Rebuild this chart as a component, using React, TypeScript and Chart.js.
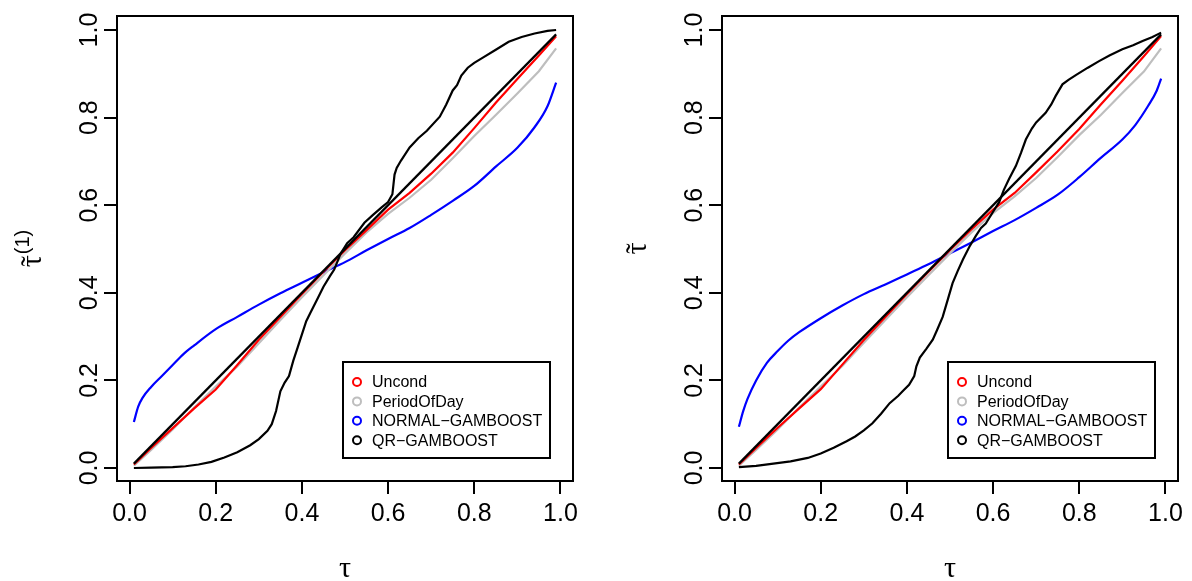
import React, { useEffect, useRef } from 'react';
import { Chart, registerables } from 'chart.js';

Chart.register(...registerables);

// ---------- data ----------
const TICKS = [0, 0.2, 0.4, 0.6, 0.8, 1.0];
const TICK_LABELS = ['0.0', '0.2', '0.4', '0.6', '0.8', '1.0'];

const SERIES_NAMES = ['Uncond', 'PeriodOfDay', 'NORMAL\u2212GAMBOOST', 'QR\u2212GAMBOOST'];
const SERIES_COLORS = ['#FF0000', '#BEBEBE', '#0000FF', '#000000'];

const TAU_GRID = [0.01, 0.05, 0.1, 0.15, 0.2, 0.25, 0.3, 0.35, 0.4, 0.45, 0.5, 0.55, 0.6, 0.65, 0.7, 0.75, 0.8, 0.85, 0.9, 0.95, 0.99];

const DIAG_X = [0.01, 0.99];
const DIAG_Y = [0.01, 0.99];

// left panel
const LEFT_UNCOND = [0.008, 0.046, 0.091, 0.136, 0.179, 0.235, 0.293, 0.345, 0.397, 0.448, 0.497, 0.543, 0.59, 0.628, 0.672, 0.72, 0.776, 0.834, 0.888, 0.942, 0.986];
const LEFT_PERIOD = [0.005, 0.041, 0.088, 0.138, 0.186, 0.232, 0.285, 0.338, 0.39, 0.44, 0.49, 0.538, 0.58, 0.617, 0.658, 0.707, 0.758, 0.806, 0.855, 0.906, 0.958];

const LEFT_NORMAL_X = [0.01, 0.02, 0.03, 0.05, 0.075, 0.1, 0.125, 0.15, 0.2, 0.25, 0.3, 0.35, 0.4, 0.45, 0.5, 0.55, 0.6, 0.65, 0.7, 0.75, 0.8, 0.85, 0.9, 0.94, 0.97, 0.99];
const LEFT_NORMAL_Y = [0.105, 0.14, 0.16, 0.185, 0.21, 0.235, 0.26, 0.28, 0.317, 0.345, 0.373, 0.399, 0.423, 0.447, 0.47, 0.497, 0.523, 0.548, 0.578, 0.61, 0.644, 0.688, 0.731, 0.778, 0.826, 0.88];

const LEFT_QR_X = [0.01, 0.05, 0.1, 0.13, 0.16, 0.19, 0.22, 0.25, 0.28, 0.3, 0.32, 0.33, 0.34, 0.35, 0.36, 0.37, 0.38, 0.39, 0.41, 0.42, 0.435, 0.45, 0.465, 0.475, 0.49, 0.505, 0.52, 0.545, 0.565, 0.585, 0.6, 0.61, 0.615, 0.62, 0.63, 0.65, 0.67, 0.69, 0.72, 0.735, 0.75, 0.76, 0.77, 0.785, 0.8, 0.82, 0.85, 0.88, 0.91, 0.94, 0.97, 0.99];
const LEFT_QR_Y = [0.0, 0.001, 0.002, 0.004, 0.008, 0.014, 0.024, 0.036, 0.052, 0.066, 0.085, 0.1, 0.13, 0.175, 0.195, 0.21, 0.245, 0.275, 0.335, 0.355, 0.384, 0.414, 0.438, 0.453, 0.49, 0.513, 0.527, 0.56, 0.578, 0.595, 0.607, 0.625, 0.67, 0.685, 0.702, 0.732, 0.753, 0.77, 0.802, 0.83, 0.862, 0.874, 0.896, 0.914, 0.925, 0.937, 0.955, 0.973, 0.984, 0.992, 0.998, 1.0];

// right panel
const RIGHT_UNCOND = [0.008, 0.046, 0.092, 0.136, 0.18, 0.236, 0.292, 0.345, 0.397, 0.448, 0.498, 0.545, 0.59, 0.628, 0.675, 0.723, 0.774, 0.83, 0.884, 0.94, 0.986];
const RIGHT_PERIOD = [0.005, 0.041, 0.088, 0.138, 0.186, 0.233, 0.286, 0.338, 0.39, 0.44, 0.49, 0.538, 0.582, 0.62, 0.662, 0.71, 0.76, 0.806, 0.856, 0.905, 0.958];

const RIGHT_NORMAL_X = [0.01, 0.02, 0.03, 0.05, 0.075, 0.1, 0.125, 0.15, 0.2, 0.25, 0.3, 0.35, 0.4, 0.45, 0.5, 0.55, 0.6, 0.65, 0.7, 0.75, 0.8, 0.85, 0.9, 0.93, 0.96, 0.98, 0.99];
const RIGHT_NORMAL_Y = [0.094, 0.13, 0.158, 0.2, 0.24, 0.267, 0.291, 0.31, 0.342, 0.371, 0.397, 0.419, 0.442, 0.465, 0.49, 0.515, 0.541, 0.566, 0.594, 0.624, 0.664, 0.708, 0.75, 0.783, 0.827, 0.862, 0.889];

const RIGHT_QR_X = [0.01, 0.05, 0.09, 0.13, 0.17, 0.2, 0.23, 0.26, 0.28, 0.3, 0.32, 0.34, 0.36, 0.38, 0.39, 0.405, 0.417, 0.422, 0.43, 0.445, 0.46, 0.47, 0.483, 0.495, 0.506, 0.518, 0.53, 0.545, 0.56, 0.572, 0.583, 0.6, 0.614, 0.625, 0.637, 0.653, 0.665, 0.676, 0.69, 0.7, 0.722, 0.735, 0.745, 0.761, 0.775, 0.792, 0.82, 0.846, 0.87, 0.9, 0.925, 0.947, 0.97, 0.99];
const RIGHT_QR_Y = [0.002, 0.005, 0.01, 0.015, 0.023, 0.033, 0.046, 0.061, 0.072, 0.086, 0.102, 0.124, 0.148, 0.165, 0.175, 0.19, 0.21, 0.232, 0.252, 0.272, 0.293, 0.315, 0.345, 0.385, 0.422, 0.45, 0.476, 0.505, 0.53, 0.548, 0.558, 0.585, 0.607, 0.635, 0.66, 0.69, 0.72, 0.75, 0.775, 0.789, 0.811, 0.83, 0.849, 0.876, 0.886, 0.897, 0.914, 0.929, 0.942, 0.956, 0.965, 0.975, 0.984, 0.994];

// ---------- helpers ----------
const SANS = '"Liberation Sans", Arial, Helvetica, sans-serif';
const SERIF = '"Liberation Serif", "Times New Roman", serif';

const pts = (xs: number[], ys: number[]) => xs.map((x, i) => ({ x, y: ys[i] }));

type PanelSpec = {
  uncond: number[];
  period: number[];
  normalX: number[];
  normalY: number[];
  qrX: number[];
  qrY: number[];
  yTitleSup: boolean;
  yAxisWidth: number;
  rightPad: number;
};

const rPanelPlugin = {
  id: 'rPanel',
  afterDraw(chart: any) {
    const { ctx, chartArea } = chart;
    const spec = chart.options.plugins.rPanel as { yTitleSup: boolean };
    const yScale = chart.scales.y;
    const { left, right, top, bottom } = chartArea;
    ctx.save();
    // plot box
    ctx.strokeStyle = '#000';
    ctx.lineWidth = 2;
    ctx.strokeRect(left, top, right - left, bottom - top);

    // y tick labels (rotated like R)
    ctx.fillStyle = '#000';
    ctx.font = `25px ${SANS}`;
    ctx.textAlign = 'center';
    ctx.textBaseline = 'alphabetic';
    TICKS.forEach((v, i) => {
      const y = yScale.getPixelForValue(v);
      ctx.save();
      ctx.translate(left - 20.5, y);
      ctx.rotate(-Math.PI / 2);
      ctx.fillText(TICK_LABELS[i], 0, 0);
      ctx.restore();
    });

    // x title
    const cx = (left + right) / 2;
    ctx.font = `30px ${SERIF}`;
    ctx.textAlign = 'center';
    ctx.fillText('\u03C4', cx, 577);

    // y title
    const cy = (top + bottom) / 2;
    ctx.save();
    ctx.translate(left - 76, cy);
    ctx.rotate(-Math.PI / 2);
    ctx.font = `30px ${SERIF}`;
    const tauW = ctx.measureText('\u03C4').width;
    let supW = 0;
    if (spec.yTitleSup) {
      ctx.font = `20px ${SANS}`;
      supW = ctx.measureText('(1)').width + 1;
    }
    const total = tauW + supW;
    const x0 = -total / 2;
    ctx.font = `30px ${SERIF}`;
    ctx.textAlign = 'left';
    ctx.fillText('\u03C4', x0, 0);
    ctx.textAlign = 'center';
    ctx.fillText('\u02DC', x0 + tauW / 2, 0);
    if (spec.yTitleSup) {
      ctx.font = `20px ${SANS}`;
      ctx.textAlign = 'left';
      ctx.fillText('(1)', x0 + tauW + 1, -12);
    }
    ctx.restore();

    // legend (bottom right, inset)
    const bw = 207;
    const bh = 96;
    const bx = right - 23 - bw;
    const by = bottom - 23 - bh;
    ctx.lineWidth = 2;
    ctx.strokeStyle = '#000';
    ctx.fillStyle = '#fff';
    ctx.fillRect(bx, by, bw, bh);
    ctx.strokeRect(bx, by, bw, bh);
    ctx.font = `16px ${SANS}`;
    ctx.textAlign = 'left';
    ctx.textBaseline = 'middle';
    const legendItems = chart.data.datasets.filter((d: any) => d.inLegend);
    const order = SERIES_NAMES.map((n) => legendItems.find((d: any) => d.label === n));
    order.forEach((d: any, i: number) => {
      if (!d) return;
      const ry = by + 20 + i * 19.4;
      ctx.beginPath();
      ctx.arc(bx + 14, ry, 4, 0, Math.PI * 2);
      ctx.strokeStyle = d.borderColor;
      ctx.lineWidth = 2;
      ctx.stroke();
      ctx.fillStyle = '#000';
      ctx.fillText(d.label, bx + 29, ry + 1);
    });
    ctx.restore();
  },
};

function makeConfig(spec: PanelSpec): any {
  const line = (label: string, color: string, data: any[], inLegend: boolean, smooth = false) => ({
    label,
    data,
    borderColor: color,
    backgroundColor: color,
    borderWidth: 2.2,
    pointRadius: 0,
    showLine: true,
    fill: false,
    tension: 0,
    cubicInterpolationMode: smooth ? 'monotone' : 'default',
    inLegend,
  });
  const datasets = [
    line('diagonal', '#000000', pts(DIAG_X, DIAG_Y), false),
    line(SERIES_NAMES[3], SERIES_COLORS[3], pts(spec.qrX, spec.qrY), true),
    line(SERIES_NAMES[0], SERIES_COLORS[0], pts(TAU_GRID, spec.uncond), true),
    line(SERIES_NAMES[1], SERIES_COLORS[1], pts(TAU_GRID, spec.period), true),
    line(SERIES_NAMES[2], SERIES_COLORS[2], pts(spec.normalX, spec.normalY), true, true),
  ];
  const setTicks = (s: any) => {
    s.ticks = TICKS.map((v) => ({ value: v }));
  };
  return {
    type: 'scatter',
    data: { datasets },
    plugins: [rPanelPlugin],
    options: {
      animation: false,
      responsive: false,
      maintainAspectRatio: false,
      devicePixelRatio: 1,
      layout: { padding: { top: 16, right: spec.rightPad, left: 0, bottom: 0 } },
      plugins: {
        legend: { display: false },
        tooltip: { enabled: false },
        rPanel: { yTitleSup: spec.yTitleSup },
      },
      scales: {
        x: {
          type: 'linear',
          min: -0.0292,
          max: 1.0292,
          afterBuildTicks: setTicks,
          afterFit: (s: any) => {
            s.height = 100;
          },
          border: { display: false },
          grid: { drawOnChartArea: false, drawTicks: true, tickLength: 13, color: '#000', lineWidth: 2 },
          ticks: {
            color: '#000',
            font: { family: SANS, size: 25 },
            padding: 5,
            maxRotation: 0,
            autoSkip: false,
            callback: (v: number) => TICK_LABELS[TICKS.indexOf(Math.round(v * 10) / 10)] ?? '',
          },
        },
        y: {
          type: 'linear',
          min: -0.0297,
          max: 1.032,
          afterBuildTicks: setTicks,
          afterFit: (s: any) => {
            s.width = spec.yAxisWidth;
          },
          border: { display: false },
          grid: { drawOnChartArea: false, drawTicks: true, tickLength: 13, color: '#000', lineWidth: 2 },
          ticks: { display: false },
        },
      },
    },
  };
}

function Panel({ spec }: { spec: PanelSpec }) {
  const ref = useRef<HTMLCanvasElement | null>(null);
  useEffect(() => {
    if (!ref.current) return;
    const chart = new Chart(ref.current, makeConfig(spec));
    return () => chart.destroy();
  }, [spec]);
  return <canvas ref={ref} width={596} height={581} style={{ display: 'block', width: 596, height: 581 }} />;
}

const LEFT_SPEC: PanelSpec = {
  uncond: LEFT_UNCOND,
  period: LEFT_PERIOD,
  normalX: LEFT_NORMAL_X,
  normalY: LEFT_NORMAL_Y,
  qrX: LEFT_QR_X,
  qrY: LEFT_QR_Y,
  yTitleSup: true,
  yAxisWidth: 117,
  rightPad: 23,
};

const RIGHT_SPEC: PanelSpec = {
  uncond: RIGHT_UNCOND,
  period: RIGHT_PERIOD,
  normalX: RIGHT_NORMAL_X,
  normalY: RIGHT_NORMAL_Y,
  qrX: RIGHT_QR_X,
  qrY: RIGHT_QR_Y,
  yTitleSup: false,
  yAxisWidth: 126,
  rightPad: 14,
};

export default function App() {
  return (
    <div style={{ position: 'fixed', left: 0, top: 0, width: 1192, height: 581, background: '#fff', display: 'flex' }}>
      <div style={{ width: 596, height: 581 }}>
        <Panel spec={LEFT_SPEC} />
      </div>
      <div style={{ width: 596, height: 581 }}>
        <Panel spec={RIGHT_SPEC} />
      </div>
    </div>
  );
}
